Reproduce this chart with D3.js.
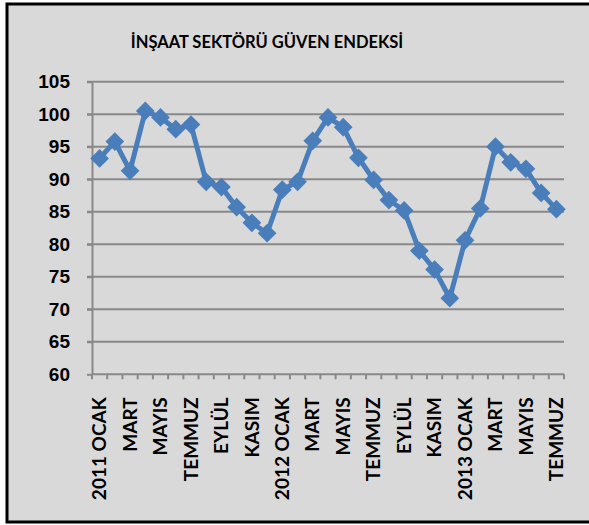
<!DOCTYPE html>
<html>
<head>
<meta charset="utf-8">
<script src="https://cdn.jsdelivr.net/npm/d3@7"></script>
<style>
  html, body { margin: 0; padding: 0; overflow: hidden; background: #fff; }
  svg { display: block; font-family: Lato, "Open Sans", sans-serif; }
</style>
</head>
<body>
<div id="chartDiv"></div>
<script>
; (function () {

	var width = 589;
	var height = 525;
	var margin = { top: 81.7, right: 25, bottom: 150.7, left: 92 };

	var titleText = "İNŞAAT SEKTÖRÜ GÜVEN ENDEKSİ";

	// months 2011 OCAK .. 2013 TEMMUZ
	var months = ["2011 OCAK", "ŞUBAT", "MART", "NİSAN", "MAYIS", "HAZİRAN", "TEMMUZ", "AĞUSTOS", "EYLÜL", "EKİM", "KASIM", "ARALIK",
		"2012 OCAK", "ŞUBAT ", "MART ", "NİSAN ", "MAYIS ", "HAZİRAN ", "TEMMUZ ", "AĞUSTOS ", "EYLÜL ", "EKİM ", "KASIM ", "ARALIK ",
		"2013 OCAK", "ŞUBAT  ", "MART  ", "NİSAN  ", "MAYIS  ", "HAZİRAN  ", "TEMMUZ  "];
	var values = [93.2, 95.8, 91.3, 100.5, 99.5, 97.7, 98.4, 89.6, 88.8, 85.7, 83.3, 81.7,
		88.4, 89.6, 95.9, 99.5, 98.0, 93.3, 89.9, 86.8, 85.2, 79.0, 76.1, 71.7,
		80.6, 85.5, 95.0, 92.6, 91.6, 87.9, 85.4];
	var yTicks = [60, 65, 70, 75, 80, 85, 90, 95, 100, 105];

	var gridColor = "#898989";
	var lineColor = "#4a7ebb";

	var chart;
	var chartWidth = width - margin.left - margin.right;
	var chartHeight = height - margin.top - margin.bottom;

	init();

	function init() {
		chart = d3.select("#chartDiv").append("svg")
			.attr("width", width)
			.attr("height", height);

		// chart area background, border on left / top / bottom only (cut off at right)
		chart.append("rect")
			.attr("x", 6).attr("y", 3)
			.attr("width", width - 6).attr("height", 520)
			.attr("fill", "#d9d9d9");

		chart.append("path")
			.attr("d", "M" + width + ",4 H7 V522 H" + width)
			.attr("fill", "none")
			.attr("stroke", "#000")
			.attr("stroke-width", 3);

		chart.append("text")
			.attr("x", 267)
			.attr("y", 47.5)
			.attr("text-anchor", "middle")
			.style("font-size", "16.5px")
			.style("font-weight", "bold")
			.text(titleText);

		chart.plotArea = chart.append("g")
			.attr("transform", "translate(" + margin.left + "," + margin.top + ")");

		createAxes();
		drawLine();
	}

	function createAxes() {
		chart.xScale = d3.scaleBand()
			.domain(months)
			.range([0, chartWidth]);

		chart.yScale = d3.scaleLinear()
			.domain([60, 105])
			.range([chartHeight, 0]);

		// gridlines
		chart.plotArea.append("g")
			.selectAll("line")
			.data(yTicks.slice(1))
			.join("line")
			.attr("x1", -5)
			.attr("x2", chartWidth)
			.attr("y1", function (d) { return chart.yScale(d); })
			.attr("y2", function (d) { return chart.yScale(d); })
			.attr("stroke", gridColor)
			.attr("stroke-width", 2);

		// y axis
		chart.yAxis = d3.axisLeft(chart.yScale)
			.tickValues(yTicks)
			.tickSize(5)
			.tickSizeOuter(0)
			.tickPadding(17);

		var yg = chart.plotArea.append("g").call(chart.yAxis);
		yg.select(".domain").attr("stroke", gridColor).attr("stroke-width", 2);
		yg.selectAll(".tick line").attr("stroke", gridColor).attr("stroke-width", 2);
		yg.selectAll(".tick text")
			.attr("fill", "#000")
			.style("font-size", "19px")
			.style("font-weight", "bold")
			.attr("font-family", null);

		// x axis: ticks between categories
		var step = chart.xScale.step();
		var boundaries = d3.range(months.length + 1).map(function (i) { return i * step; });

		var xg = chart.plotArea.append("g")
			.attr("transform", "translate(0," + chartHeight + ")");

		xg.append("line")
			.attr("x1", 0).attr("x2", chartWidth)
			.attr("stroke", gridColor).attr("stroke-width", 2);

		xg.selectAll(".xtick")
			.data(boundaries)
			.join("line")
			.attr("class", "xtick")
			.attr("x1", function (d) { return d; })
			.attr("x2", function (d) { return d; })
			.attr("y1", 0).attr("y2", 5)
			.attr("stroke", gridColor).attr("stroke-width", 2);

		xg.selectAll(".xlabel")
			.data(months.filter(function (d, i) { return i % 2 === 0; }))
			.join("text")
			.attr("class", "xlabel")
			.attr("text-anchor", "end")
			.attr("dy", "0.35em")
			.attr("transform", function (d) {
				return "translate(" + (chart.xScale(d) + step / 2) + ",23) rotate(-90)";
			})
			.style("font-size", "19px")
			.style("font-weight", "bold")
			.text(function (d) { return d.trim(); });
	}

	function drawLine() {
		var cx = function (d, i) { return chart.xScale(months[i]) + chart.xScale.bandwidth() / 2; };

		var line = d3.line()
			.x(cx)
			.y(function (d) { return chart.yScale(d); });

		chart.plotArea.append("path")
			.datum(values)
			.attr("fill", "none")
			.attr("stroke", lineColor)
			.attr("stroke-width", 5)
			.attr("stroke-linejoin", "round")
			.attr("d", line);

		chart.plotArea.append("g")
			.selectAll("path")
			.data(values)
			.join("path")
			.attr("d", d3.symbol().type(d3.symbolSquare).size(175))
			.attr("transform", function (d, i) {
				return "translate(" + cx(d, i) + "," + chart.yScale(d) + ") rotate(45)";
			})
			.attr("fill", lineColor);
	}

})();
</script>
</body>
</html>
